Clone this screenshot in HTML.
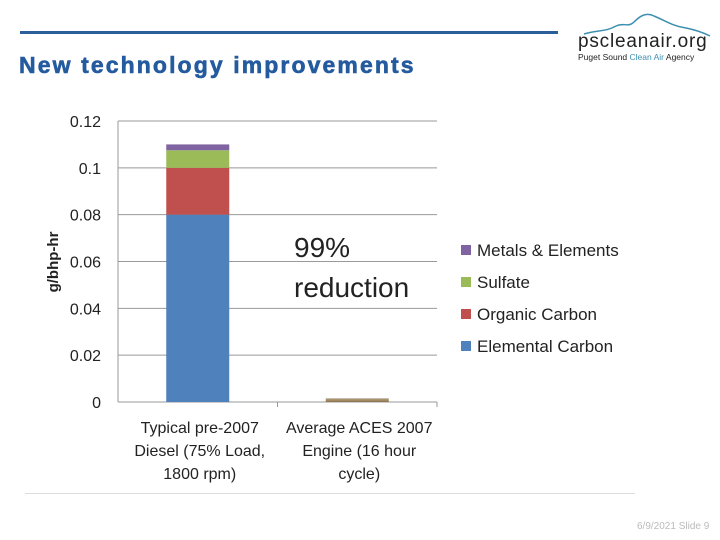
<!DOCTYPE html>
<html><head><meta charset="utf-8"><style>
body{margin:0;width:720px;height:540px;background:#fff;overflow:hidden;font-family:"Liberation Sans",sans-serif;position:relative}
.abs{position:absolute}
</style></head><body>
<div class="abs" style="left:20px;top:31px;width:538px;height:3px;background:#2b5f9a"></div>
<div class="abs" style="left:19px;top:52px;font-size:23px;font-weight:bold;color:#245a9e;letter-spacing:2.1px;-webkit-text-stroke:0.6px #245a9e">New technology improvements</div>
<div class="abs" style="left:576px;top:8px;width:136px;height:56px">
<svg width="136" height="56"><path d="M8 26 C20 22 30 24 40 18 C48 14 52 20 58 14 C64 8 70 4 78 8 C88 12 96 18 110 20 C120 22 126 24 134 28" fill="none" stroke="#3c8fb0" stroke-width="1.5"/></svg>
<div class="abs" style="left:2px;top:23px;font-size:19px;color:#222;letter-spacing:0.8px">pscleanair.org</div>
<div class="abs" style="left:2px;top:44px;font-size:8.5px;color:#222;white-space:nowrap">Puget Sound <span style="color:#3c8fb0">Clean Air</span> Agency</div>
</div>
<svg class="abs" style="left:0;top:0" width="720" height="540" id="chart"></svg>
<div class="abs" style="left:25px;top:493px;width:610px;height:1px;background:#ddd"></div>
<div class="abs" style="left:637px;top:521px;font-size:10px;color:#bbb">6/9/2021 Slide 9</div>
<script>
const categories=[["Typical pre-2007","Diesel (75% Load,","1800 rpm)"],["Average ACES 2007","Engine (16 hour","cycle)"]];
const seriesNames=["Elemental Carbon","Organic Carbon","Sulfate","Metals & Elements"];
const elementalCarbon=[0.08,0.0006];
const organicCarbon=[0.02,0.0004];
const sulfate=[0.0075,0.0003];
const metals=[0.0025,0.0002];
const yTicks=[0,0.02,0.04,0.06,0.08,0.1,0.12];
const yTickLabels=["0","0.02","0.04","0.06","0.08","0.1","0.12"];
const colors=["#4f81bd","#c0504d","#9bbb59","#8064a2"];
const svg=document.getElementById('chart');const NS="http://www.w3.org/2000/svg";
const x0=118,x1=437,yb=402,yt=121,ymax=0.12;
const y=v=>yb-(v/ymax)*(yb-yt);
const bandW=(x1-x0)/categories.length;
const xc=i=>x0+bandW*(i+0.5);
function mk(t,a){const e=document.createElementNS(NS,t);for(const k in a)e.setAttribute(k,a[k]);svg.appendChild(e);return e;}
yTicks.forEach((t,i)=>{
 const g=mk('line',{x1:x0,x2:x1,y1:y(t),y2:y(t),stroke:'#999','stroke-width':1});
 
 
 const l=mk('text',{x:101,y:y(t)+6,'text-anchor':'end','font-size':16,fill:'#222','font-family':'Liberation Sans, sans-serif'});
 l.textContent=yTickLabels[i];
 
 
});
const ax=mk('line',{x1:x0,x2:x0,y1:yt,y2:yb,stroke:'#999'});


[x0+bandW, x1].forEach(xx=>{const t=mk('line',{x1:xx,x2:xx,y1:yb,y2:yb+5,stroke:'#999'});
 
 });
const yt2=mk('text',{transform:'translate(58,262) rotate(-90)','text-anchor':'middle','font-size':15,'font-weight':'bold',fill:'#222','font-family':'Liberation Sans, sans-serif'});
yt2.textContent='g/bhp-hr';


const series=[elementalCarbon,organicCarbon,sulfate,metals];
const bw=63;
categories.forEach((c,i)=>{
 let acc=0;
 series.forEach((s,j)=>{
  const r=mk('rect',{x:xc(i)-bw/2,y:y(acc+s[i]),width:bw,height:y(acc)-y(acc+s[i]),fill:i==1?['#8f7a55','#a08050','#9a8a5a','#887060'][j]:colors[j]});
  
  
  acc+=s[i];
 });
 c.forEach((ln,k)=>{const t=mk('text',{x:xc(i)+2,y:433+k*23,'text-anchor':'middle','font-size':16,fill:'#222','font-family':'Liberation Sans, sans-serif'});
  t.textContent=ln;
  
  });
});
['99%','reduction'].forEach((s,k)=>{const t=mk('text',{x:294,y:257+k*40,'font-size':28,fill:'#222','font-family':'Liberation Sans, sans-serif'});
 t.textContent=s;
 
 });
[3,2,1,0].forEach((j,k)=>{
 const r=mk('rect',{x:461,y:245+k*32,width:10,height:10,fill:colors[j]});
 
 
 const t=mk('text',{x:477,y:256+k*32,'font-size':17,fill:'#222','font-family':'Liberation Sans, sans-serif'});
 t.textContent=seriesNames[j];
 
 
});
</script>
</body></html>
